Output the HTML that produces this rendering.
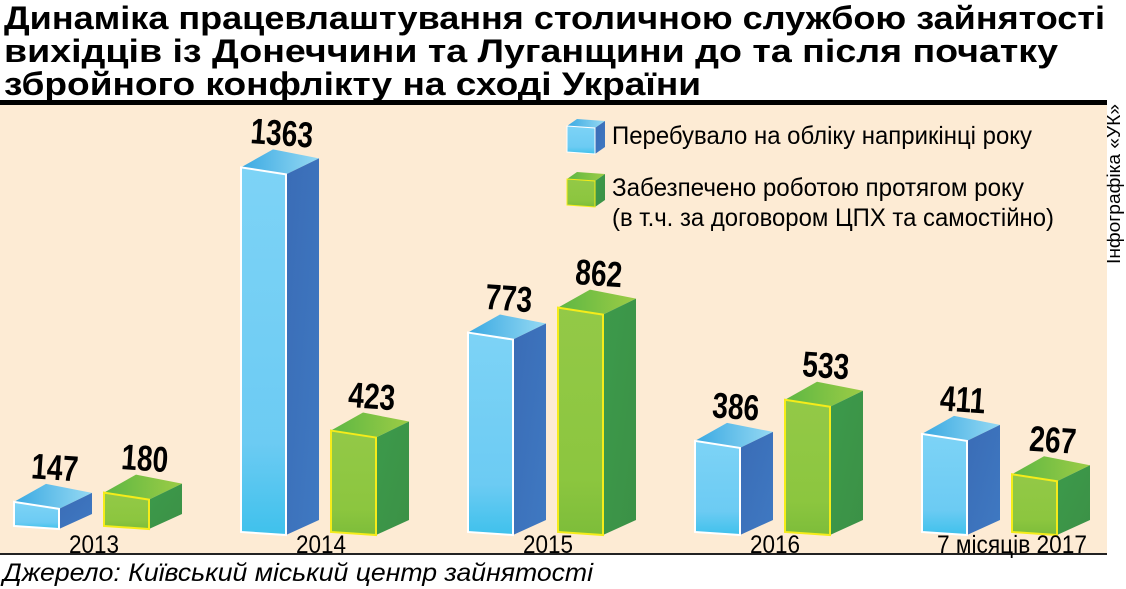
<!DOCTYPE html>
<html><head><meta charset="utf-8"><style>
html,body{margin:0;padding:0;background:#fff;}
svg{display:block;font-family:"Liberation Sans",sans-serif;}
</style></head><body>
<svg id="chart" width="1126" height="589" viewBox="0 0 1126 589">
<defs>
<linearGradient id="bf" x1="0" y1="0" x2="0" y2="1"><stop offset="0" stop-color="#7dd3f6"/><stop offset="0.75" stop-color="#6ccbf3"/><stop offset="1" stop-color="#3fc1ec"/></linearGradient>
<linearGradient id="bs" x1="0" y1="0" x2="1" y2="1"><stop offset="0" stop-color="#3a6cb6"/><stop offset="1" stop-color="#3f79c2"/></linearGradient>
<linearGradient id="bt" x1="0" y1="0" x2="1" y2="0"><stop offset="0" stop-color="#3aa9e2"/><stop offset="1" stop-color="#95d9f3"/></linearGradient>
<linearGradient id="gf" x1="0" y1="0" x2="0" y2="1"><stop offset="0" stop-color="#93c947"/><stop offset="0.75" stop-color="#8cc63f"/><stop offset="1" stop-color="#7dbd3a"/></linearGradient>
<linearGradient id="gs" x1="0" y1="0" x2="1" y2="1"><stop offset="0" stop-color="#3d9a4b"/><stop offset="1" stop-color="#3b9146"/></linearGradient>
<linearGradient id="gt" x1="0" y1="0" x2="1" y2="0"><stop offset="0" stop-color="#5db744"/><stop offset="1" stop-color="#9ccc45"/></linearGradient>
</defs>
<rect x="0" y="0" width="1126" height="589" fill="#fff"/>
<rect x="0" y="104" width="1107" height="450" fill="#fdebd4"/>
<g font-weight="bold" font-size="32" fill="#000">
<text x="4" y="29" textLength="1101" lengthAdjust="spacingAndGlyphs">Динаміка працевлаштування столичною службою зайнятості</text>
<text x="4" y="62" textLength="1054" lengthAdjust="spacingAndGlyphs">вихідців із Донеччини та Луганщини до та після початку</text>
<text x="4" y="95" textLength="697" lengthAdjust="spacingAndGlyphs">збройного конфлікту на сході України</text>
</g>
<rect x="0" y="100" width="1107" height="5" fill="#000"/>
<rect x="0" y="553" width="1107" height="2" fill="#222"/>
<text x="1126" y="264" transform="rotate(-90 1126 264)" font-size="18" fill="#000" dy="-6" textLength="160" lengthAdjust="spacingAndGlyphs">Інфографіка «УК»</text>
<text x="3" y="581" font-style="italic" font-size="25" fill="#000" textLength="590" lengthAdjust="spacingAndGlyphs">Джерело: Київський міський центр зайнятості</text>
<g id="legend"></g>
<g id="bars"></g>
</svg>
<script>
const categories = ["2013","2014","2015","2016","7 місяців 2017"];
const registered = [147,1363,773,386,411];
const employed = [180,423,862,533,267];
const seriesNames = ["Перебувало на обліку наприкінці року","Забезпечено роботою протягом року","(в т.ч. за договором ЦПХ та самостійно)"];

const NS="http://www.w3.org/2000/svg";
const barsG=document.getElementById('bars');
const legendG=document.getElementById('legend');
function mk(tag,attrs,parent){const e=document.createElementNS(NS,tag);for(const k in attrs)e.setAttribute(k,attrs[k]);parent.appendChild(e);return e;}
const BASE=532;
function yh(v){return Math.max(10,0.28*v-17);}
function groupX(i){return 14+i*227;}
function drawCube(g,x,B,h,c){
  const w=45,T=B-h;
  mk('polygon',{points:`${x},${T} ${x+32},${T-18} ${x+78},${T-9} ${x+w},${T+7}`,fill:`url(#${c}t)`},g);
  mk('polygon',{points:`${x+w},${T+7} ${x+78},${T-9} ${x+78},${B-12} ${x+w},${B+3}`,fill:`url(#${c}s)`},g);
  mk('polygon',{points:`${x},${T} ${x+w},${T+7} ${x+w},${B+3} ${x},${B}`,fill:`url(#${c}f)`,stroke:c==='b'?'#fff':'#f5ec1a','stroke-width':2},g);
}
categories.forEach((cat,i)=>{
  const gx=groupX(i);
  [[registered[i],'b',0],[employed[i],'g',90]].forEach(([v,c,off],j)=>{
    const g=mk('g',{},barsG);
    
    
    const x=gx+off;
    const B=(i===0?BASE-6:BASE);
    const h=yh(v);
    drawCube(g,x,B,h,c);
    const lx=x+40, ly=B-h-22;
    const t=mk('text',{x:0,y:0,'text-anchor':'middle','font-size':36,'font-weight':'bold',fill:'#000',transform:`translate(${lx} ${ly}) rotate(4) scale(0.78 1)`},g);
    
    
    t.textContent=v;
  });
  const isLong=i===4;
  const lt=mk('text',{x:gx+(isLong?90:80),y:553,'text-anchor':'middle','font-size':25,fill:'#000',textLength:isLong?150:50,lengthAdjust:'spacingAndGlyphs'},barsG);
  
  
  lt.textContent=cat;
});
function legendCube(x,y,c){
  const g=mk('g',{},legendG);
  
  
  mk('polygon',{points:`${x},${y+7} ${x+10},${y} ${x+38},${y+2} ${x+28},${y+9}`,fill:`url(#${c}t)`},g);
  mk('polygon',{points:`${x+28},${y+9} ${x+38},${y+2} ${x+38},${y+28} ${x+28},${y+35}`,fill:`url(#${c}s)`},g);
  mk('polygon',{points:`${x},${y+7} ${x+28},${y+9} ${x+28},${y+35} ${x},${y+33}`,fill:`url(#${c}f)`,stroke:c==='b'?'#fff':'#f5ec1a','stroke-width':1},g);
}
legendCube(567,119,'b');
legendCube(567,172,'g');
const lp=[[612,144,seriesNames[0],420],[612,196,seriesNames[1],412],[612,226,seriesNames[2],442]];
lp.forEach(([x,y,s,len],k)=>{
  const t=mk('text',{x:x,y:y,'font-size':25,fill:'#000',textLength:len,lengthAdjust:'spacingAndGlyphs'},legendG);
  
  
  t.textContent=s;
});
</script>
</body></html>
